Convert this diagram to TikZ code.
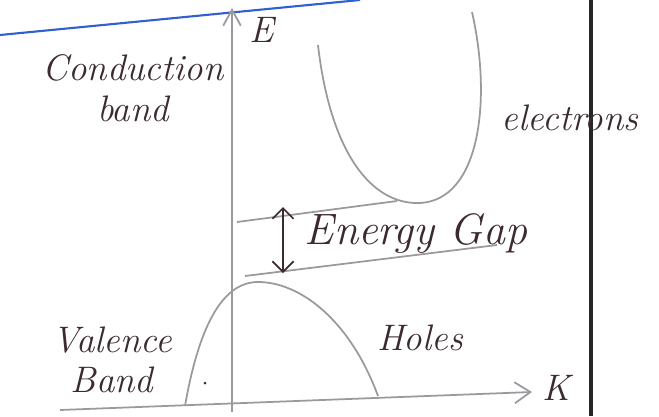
\documentclass[tikz,border=0pt]{standalone}
\usetikzlibrary{arrows.meta, positioning}
\definecolor{penInk}{HTML}{3B2A30}
\definecolor{pencilGray}{HTML}{9A9A9E}
\definecolor{ruleBlue}{HTML}{2F5FD0}
\begin{document}
\begin{tikzpicture}[x=0.02cm, y=-0.02cm,
    font=\fontsize{21}{23}\selectfont\itshape,
    hand/.style={text=penInk, inner sep=1pt, align=center},
    curve/.style={pencilGray, line width=1pt}]
  \useasboundingbox (0,0) rectangle (659,416);
  % ruled line and page edge
  \draw[ruleBlue, line width=1.2pt] (0,35) -- (360,0);
  \draw[black!85, line width=2.2pt] (591,0) -- (591,416);
  % axes
  \coordinate (eBase) at (232,412);
  \coordinate (eTop) at (232,8);
  \coordinate (kBase) at (60,410);
  \coordinate (kTip) at (532,392);
  \draw[curve, -{Straight Barb[length=9pt, width=10pt]}] (eBase) -- (eTop);
  \draw[curve, -{Straight Barb[length=9pt, width=12pt]}] (kBase) -- (kTip);
  \node[hand] (eLabel) at (262,30) {E};
  \node[hand] (kLabel) at (556,388) {K};
  % conduction band
  \draw[curve] (318,45) .. controls (330,150) and (370,205) .. (420,203)
    .. controls (480,200) and (492,100) .. (472,12);
  % energy gap
  \coordinate (cbEdgeL) at (237,222);
  \coordinate (cbEdgeR) at (397,201);
  \coordinate (vbEdgeL) at (245,276);
  \coordinate (vbEdgeR) at (497,245);
  \draw[curve] (cbEdgeL) -- (cbEdgeR);
  \draw[curve] (vbEdgeL) -- (vbEdgeR);
  \coordinate (gapTop) at (283,207);
  \coordinate (gapBot) at (283,273);
  \draw[penInk, line width=1pt, {Straight Barb[length=6pt]}-{Straight Barb[length=6pt]}] (gapTop) -- (gapBot);
  \node[hand, font=\fontsize{25}{27}\selectfont\itshape] (gapLabel) at (416,234) {Energy Gap};
  % valence band
  \draw[curve] (185,406) .. controls (200,320) and (225,282) .. (258,282)
    .. controls (300,282) and (350,320) .. (378,396);
  \fill[penInk] (205,383) circle (1.5);
  % labels
  \node[hand] (condLabel) at (133,88) {Conduction\\band};
  \node[hand] (elecLabel) at (570,118) {electrons};
  \node[hand] (valLabel) at (112,360) {Valence\\Band};
  \node[hand] (holeLabel) at (420,338) {Holes};
\end{tikzpicture}
\end{document}
